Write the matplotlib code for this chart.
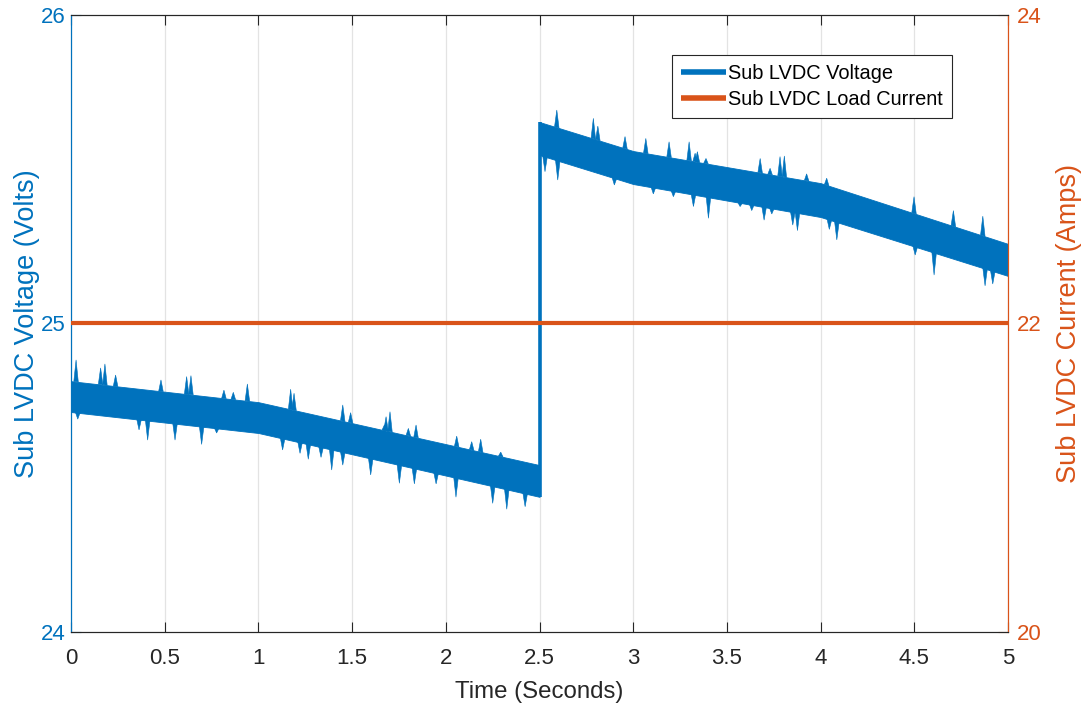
import numpy as np
import matplotlib
matplotlib.use("Agg")
import matplotlib.pyplot as plt

plt.rcParams['font.family'] = ['Liberation Sans', 'DejaVu Sans']

BLUE = '#0072BD'
ORANGE = '#D95319'
DARK = '#262626'

# Voltage envelope: knots in time (s), upper and lower edge of the ripple band (V)
t_knots = [0.0, 1.0, 2.5, 2.5, 3.0, 4.0, 5.0]
v_upper = [24.813, 24.745, 24.541, 25.653, 25.559, 25.455, 25.258]
v_lower = [24.713, 24.645, 24.438, 25.546, 25.452, 25.345, 25.154]

# Transient spikes above the band (time s, peak V)
spike_up_t = [0.027, 0.158, 0.181, 0.238, 0.480, 0.617, 0.640, 0.816, 0.866, 0.941,
              1.172, 1.190, 1.450, 1.492, 1.672, 1.681, 1.702, 1.800, 1.841, 2.058,
              2.138, 2.186, 2.293, 2.592, 2.787, 2.811, 2.956, 3.067, 3.191, 3.298,
              3.330, 3.342, 3.388, 3.677, 3.730, 3.783, 3.806, 3.925, 4.032, 4.498,
              4.708, 4.865]
spike_up_v = [24.882, 24.856, 24.869, 24.833, 24.817, 24.828, 24.831, 24.784, 24.777, 24.804,
              24.787, 24.774, 24.736, 24.711, 24.671, 24.698, 24.714, 24.660, 24.671, 24.635,
              24.617, 24.625, 24.583, 25.692, 25.665, 25.640, 25.606, 25.600, 25.589, 25.589,
              25.552, 25.557, 25.535, 25.535, 25.503, 25.541, 25.543, 25.485, 25.471, 25.411,
              25.366, 25.348]

# Transient spikes below the band (time s, trough V)
spike_dn_t = [0.036, 0.363, 0.409, 0.555, 0.697, 0.777, 1.129, 1.222, 1.266, 1.334,
              1.391, 1.450, 1.599, 1.752, 1.832, 1.948, 2.054, 2.250, 2.325, 2.423,
              2.529, 2.597, 2.899, 3.107, 3.214, 3.321, 3.401, 3.570, 3.632, 3.698,
              3.739, 3.851, 3.876, 4.046, 4.086, 4.504, 4.605, 4.877, 4.918]
spike_dn_v = [24.690, 24.655, 24.622, 24.622, 24.608, 24.645, 24.590, 24.579, 24.560, 24.566,
              24.525, 24.541, 24.509, 24.482, 24.480, 24.480, 24.437, 24.417, 24.398, 24.406,
              25.492, 25.465, 25.449, 25.420, 25.411, 25.379, 25.341, 25.379, 25.366, 25.335,
              25.355, 25.319, 25.301, 25.305, 25.271, 25.222, 25.157, 25.122, 25.128]

# Step change in the bus voltage
t_step = 2.5

# Load current (A)
t_current = [0.0, 5.0]
current = [22.0, 22.0]

x_ticks = [0, 0.5, 1, 1.5, 2, 2.5, 3, 3.5, 4, 4.5, 5]
x_ticklabels = ['0', '0.5', '1', '1.5', '2', '2.5', '3', '3.5', '4', '4.5', '5']
v_ticks = [24, 25, 26]
i_ticks = [20, 22, 24]


def edge_at(times, t, edge):
    """Band edge value at the given times, on the same side of the step as t."""
    if t < t_step:
        return np.interp(times, t_knots[:3], edge[:3])
    return np.interp(times, t_knots[3:], edge[3:])


fig = plt.figure(figsize=(10.84, 7.07), dpi=100)
ax = fig.add_axes([0.0655, 0.1061, 0.8645, 0.8727])

ax.set_xlim(0, 5)
ax.set_ylim(24, 26)
ax.grid(axis='x', color='#e3e3e3', linewidth=0.9)
ax.set_axisbelow(True)

# Ripple band
ax.fill_between(t_knots, v_lower, v_upper, color=BLUE, linewidth=0.6, edgecolor=BLUE, zorder=2)

# Spikes as narrow triangles rooted on the band edges
half_w = 0.012
for t, v in zip(spike_up_t, spike_up_v):
    base = edge_at([t - half_w, t + half_w], t, v_upper)
    ax.fill([t - half_w, t, t + half_w], [base[0], v, base[1]], color=BLUE, linewidth=0.4, zorder=2)
for t, v in zip(spike_dn_t, spike_dn_v):
    base = edge_at([t - half_w, t + half_w], t, v_lower)
    ax.fill([t - half_w, t, t + half_w], [base[0], v, base[1]], color=BLUE, linewidth=0.4, zorder=2)

# Vertical transition at the step
ax.plot([t_step, t_step], [v_lower[2], v_upper[3]], color=BLUE, linewidth=2.6,
        solid_capstyle='butt', zorder=2)

ax.set_xticks(x_ticks)
ax.set_xticklabels(x_ticklabels)
ax.set_yticks(v_ticks)
ax.tick_params(axis='x', direction='in', length=7.5, colors=DARK, labelsize=16,
               top=True, pad=11.5, width=0.8)
ax.tick_params(axis='y', direction='in', length=7.5, colors=BLUE, labelsize=16,
               pad=4.2, width=0.8)
ax.set_xlabel('Time (Seconds)', fontsize=17.3, color=DARK, labelpad=9)
ax.set_ylabel('Sub LVDC Voltage (Volts)', fontsize=19.5, color=BLUE, labelpad=0)

ax2 = ax.twinx()
ax2.set_ylim(20, 24)
ax2.set_yticks(i_ticks)
ax2.tick_params(axis='y', direction='in', length=7.5, colors=ORANGE, labelsize=16,
                pad=6.4, width=0.8)
ax2.set_ylabel('Sub LVDC Current (Amps)', fontsize=19.5, color=ORANGE, labelpad=10)
ax2.plot(t_current, current, color=ORANGE, linewidth=3.0, solid_capstyle='butt', zorder=3)

for a in (ax, ax2):
    a.spines['top'].set_color(DARK)
    a.spines['bottom'].set_color(DARK)
    a.spines['left'].set_color(BLUE)
    a.spines['right'].set_color(ORANGE)
    for s in a.spines.values():
        s.set_linewidth(0.8)

h1 = plt.Line2D([], [], color=BLUE, linewidth=4, solid_capstyle='butt')
h2 = plt.Line2D([], [], color=ORANGE, linewidth=4, solid_capstyle='butt')
leg = ax2.legend([h1, h2], ['Sub LVDC Voltage', 'Sub LVDC Load Current'],
                 loc='upper right', bbox_to_anchor=(0.940, 0.935), fontsize=14.4,
                 frameon=True, fancybox=False, framealpha=1, edgecolor=DARK,
                 handlelength=2.25, handletextpad=0.12, borderpad=0.45, labelspacing=0.35,
                 borderaxespad=0)
leg.get_frame().set_linewidth(0.8)

fig.savefig('out.png', dpi=100)
